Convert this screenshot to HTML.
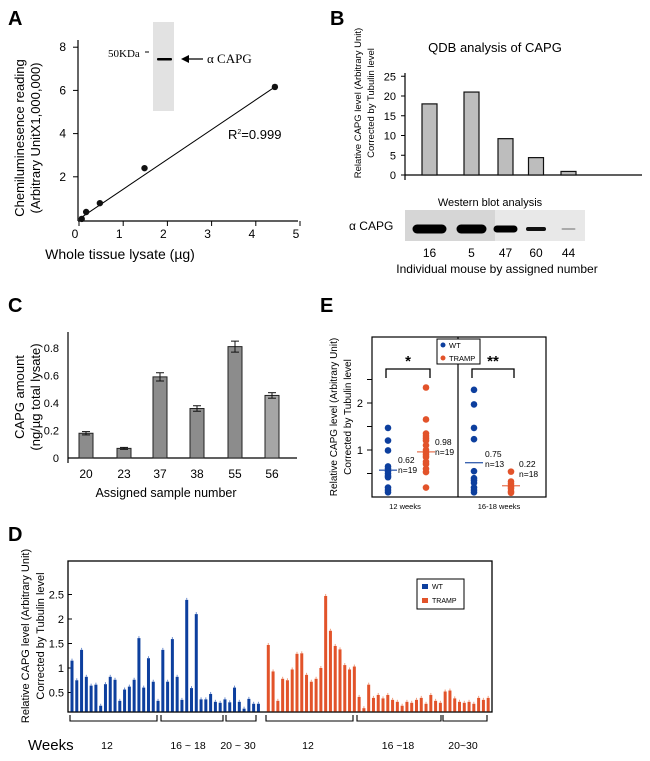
<!DOCTYPE html>
<html><head><meta charset="utf-8">
<style>
html,body{margin:0;padding:0;background:#fff;}
svg{display:block;font-family:"Liberation Sans",Arial,sans-serif;}
</style></head>
<body>
<svg id="fig" width="650" height="761" viewBox="0 0 650 761" xmlns="http://www.w3.org/2000/svg">
  <text x="8" y="25" font-size="20" font-weight="bold">A</text>
  <text x="330" y="25" font-size="20" font-weight="bold">B</text>
  <text x="8" y="312" font-size="20" font-weight="bold">C</text>
  <text x="320" y="312" font-size="20" font-weight="bold">E</text>
  <text x="8" y="541" font-size="20" font-weight="bold">D</text>

  <g id="panelA"></g>
  <g id="panelB"></g>
  <g id="panelC"></g>
  <g id="panelE"></g>
  <g id="panelD"></g>
</svg>
<script>
// ---------- Panel A data ----------
const aX = [0.13, 0.23, 0.54, 1.55, 4.5];
const aY = [0.05, 0.37, 0.78, 2.4, 6.16];
const aXTicks = [0, 1, 2, 3, 4, 5];
const aYTicks = [2, 4, 6, 8];
// ---------- Panel B data ----------
const bCats = ["16", "5", "47", "60", "44"];
const bVals = [18, 21, 9.2, 4.4, 0.9];
const bYTicks = [0, 5, 10, 15, 20, 25];
// ---------- Panel C data ----------
const cCats = ["20", "23", "37", "38", "55", "56"];
const cVals = [0.18, 0.07, 0.59, 0.36, 0.81, 0.455];
const cErrs = [0.012, 0.007, 0.03, 0.02, 0.04, 0.02];
const cYTicks = [0, 0.2, 0.4, 0.6, 0.8];
// ---------- Panel E data ----------
const eWT12 = [1.47, 1.2, 0.99, 0.65, 0.6, 0.55, 0.5, 0.45, 0.42, 0.2, 0.15, 0.1];
const eTR12 = [2.33, 1.65, 1.35, 1.3, 1.25, 1.2, 1.1, 1.0, 0.95, 0.9, 0.85, 0.75, 0.7, 0.6, 0.53, 0.2];
const eWT16 = [2.28, 1.97, 1.47, 1.23, 0.55, 0.4, 0.35, 0.3, 0.2, 0.15, 0.1];
const eTR16 = [0.54, 0.33, 0.28, 0.22, 0.18, 0.12, 0.09];
const eMeans = [0.57, 0.96, 0.73, 0.24];
const eMeanLabels = ["0.62", "0.98", "0.75", "0.22"];
const eNLabels = ["n=19", "n=19", "n=13", "n=18"];
const eYTicks = [0.5, 1, 1.5, 2, 2.5];
// ---------- Panel D data ----------
const dWT = [1.15,0.75,1.37,0.82,0.64,0.66,0.23,0.67,0.82,0.76,0.33,0.56,0.62,0.76,1.61,0.6,1.2,0.72,0.33,1.37,0.72,1.59,0.82,0.35,2.39,0.59,2.1,0.36,0.36,0.47,0.31,0.29,0.36,0.3,0.6,0.31,0.17,0.37,0.27,0.27];
const dTRAMP = [1.47,0.93,0.33,0.78,0.75,0.97,1.29,1.3,0.86,0.72,0.78,1.0,2.47,1.76,1.45,1.38,1.06,0.97,1.03,0.41,0.18,0.66,0.39,0.45,0.38,0.45,0.35,0.31,0.23,0.31,0.29,0.35,0.39,0.27,0.45,0.33,0.29,0.52,0.54,0.38,0.31,0.29,0.31,0.27,0.39,0.35,0.39];
const dYTicks = [0.5, 1, 1.5, 2, 2.5];
const dYTickLabels = ["0.5", "1", "1.5", "2", "2.5"];
const dGroups = ["12", "16 ~ 18", "20 ~ 30", "12", "16 ~18", "20~30"];

const NS = "http://www.w3.org/2000/svg";
function mk(parent, tag, attrs, text) {
  const el = document.createElementNS(NS, tag);
  for (const k in attrs) el.setAttribute(k, attrs[k]);
  if (text !== undefined) el.textContent = text;
  parent.appendChild(el);
  return el;
}

// ===== Panel A =====
(function(){
  const g = document.getElementById('panelA');
  const xs = v => 76 + 44.2 * v;
  const ys = v => 220 - 21.6 * v;
  let el;
  el = mk(g, 'line', {x1:78, y1:40, x2:78, y2:221, stroke:'#000', 'stroke-width':1.2});
   
  el = mk(g, 'line', {x1:78, y1:221, x2:298, y2:221, stroke:'#000', 'stroke-width':1.2});
   
  aXTicks.forEach(t => {
    mk(g, 'line', {x1:xs(t)+3, y1:221, x2:xs(t)+3, y2:226, stroke:'#000'});
    el = mk(g, 'text', {x:xs(t)-1, y:238, 'font-size':12, 'text-anchor':'middle'}, String(t));
     
  });
  aYTicks.forEach(t => {
    mk(g, 'line', {x1:73, y1:ys(t), x2:78, y2:ys(t), stroke:'#000'});
    el = mk(g, 'text', {x:66, y:ys(t)+4, 'font-size':12, 'text-anchor':'end'}, String(t));
     
  });
  el = mk(g, 'line', {x1:xs(0.1), y1:ys(0.09), x2:xs(4.5), y2:ys(6.16), stroke:'#000', 'stroke-width':1});
   
  aX.forEach((x, i) => {
    el = mk(g, 'circle', {cx:xs(x), cy:ys(aY[i]), r:3.2, fill:'#111'});
     
  });
  el = mk(g, 'text', {x:228, y:139, 'font-size':13}, 'R');
   
  mk(el, 'tspan', {dy:-5, 'font-size':7}, '2');
  mk(el, 'tspan', {dy:5}, '=0.999');
  el = mk(g, 'text', {x:120, y:259, 'font-size':14, 'text-anchor':'middle'}, 'Whole tissue lysate (\u00b5g)');
   
  el = mk(g, 'text', {transform:'translate(24,138) rotate(-90)', 'font-size':13, 'text-anchor':'middle'}, 'Chemiluminesence reading');
   
  el = mk(g, 'text', {transform:'translate(40,138) rotate(-90)', 'font-size':13, 'text-anchor':'middle'}, '(Arbitrary UnitX1,000,000)');
   
  el = mk(g, 'rect', {x:153, y:22, width:21, height:89, fill:'#e2e2e2'});
   
  mk(g, 'rect', {x:157, y:58, width:15, height:2.5, fill:'#000', rx:1});
  el = mk(g, 'text', {x:108, y:57, 'font-size':11, 'font-family':'Liberation Serif, serif'}, '50KDa');
   
  mk(g, 'line', {x1:145, y1:52, x2:149, y2:52, stroke:'#000'});
  mk(g, 'line', {x1:185, y1:59, x2:203, y2:59, stroke:'#000', 'stroke-width':1.3});
  mk(g, 'polygon', {points:'181,59 189,55 189,63', fill:'#000'});
  el = mk(g, 'text', {x:207, y:63, 'font-size':13, 'font-family':'Liberation Serif, serif'}, '\u03b1 CAPG');
   
})();

// ===== Panel B =====
(function(){
  const g = document.getElementById('panelB');
  const ys = v => 175 - 3.95 * v;
  const centers = [429.5, 471.5, 505.5, 536, 568.5];
  let el;
  el = mk(g, 'text', {x:495, y:52, 'font-size':13, 'text-anchor':'middle'}, 'QDB analysis of CAPG');
   
  el = mk(g, 'line', {x1:405, y1:73, x2:405, y2:180, stroke:'#000', 'stroke-width':1.2});
   
  el = mk(g, 'line', {x1:405, y1:175, x2:642, y2:175, stroke:'#000', 'stroke-width':1.2});
   
  bYTicks.forEach(t => {
    mk(g, 'line', {x1:401, y1:ys(t), x2:405, y2:ys(t), stroke:'#000'});
    el = mk(g, 'text', {x:396, y:ys(t)+4, 'font-size':11, 'text-anchor':'end'}, String(t));
     
  });
  bVals.forEach((v, i) => {
    el = mk(g, 'rect', {x:centers[i]-7.5, y:ys(v), width:15, height:175-ys(v), fill:'#bdbdbd', stroke:'#111', 'stroke-width':1.2});
     
    el = mk(g, 'text', {x:centers[i], y:257, 'font-size':12, 'text-anchor':'middle'}, bCats[i]);
     
  });
  el = mk(g, 'text', {transform:'translate(361,103) rotate(-90)', 'font-size':9.5, 'text-anchor':'middle'}, 'Relative CAPG level (Arbitrary Unit)');
   
  el = mk(g, 'text', {transform:'translate(374,103) rotate(-90)', 'font-size':9.5, 'text-anchor':'middle'}, 'Corrected by Tubulin level');
   
  el = mk(g, 'text', {x:490, y:206, 'font-size':11, 'text-anchor':'middle'}, 'Western blot analysis');
   
  el = mk(g, 'rect', {x:405, y:210, width:180, height:31, fill:'#e8e8e8'});
   
  mk(g, 'rect', {x:405, y:210, width:90, height:31, fill:'#d6d6d6'});
  const bw = [34, 30, 24, 20, 14], bh = [9, 9, 7, 4, 2], bc = ['#000','#000','#000','#111','#aaa'];
  centers.forEach((c, i) => {
    mk(g, 'rect', {x:c-bw[i]/2, y:229-bh[i]/2, width:bw[i], height:bh[i], rx:bh[i]/2, fill:bc[i]});
  });
  el = mk(g, 'text', {x:349, y:230, 'font-size':12}, '\u03b1 CAPG');
   
  el = mk(g, 'text', {x:497, y:273, 'font-size':12, 'text-anchor':'middle'}, 'Individual mouse by assigned number');
   
})();

// ===== Panel C =====
(function(){
  const g = document.getElementById('panelC');
  const ys = v => 458 - 137.5 * v;
  const centers = [86, 124, 160, 197, 235, 272];
  let el;
  el = mk(g, 'line', {x1:68, y1:332, x2:68, y2:463, stroke:'#000', 'stroke-width':1.2});
   
  el = mk(g, 'line', {x1:68, y1:458, x2:297, y2:458, stroke:'#000', 'stroke-width':1.2});
   
  cYTicks.forEach(t => {
    el = mk(g, 'text', {x:59, y:ys(t)+4, 'font-size':11, 'text-anchor':'end'}, t === 0 ? '0' : t.toFixed(1));
     
  });
  cVals.forEach((v, i) => {
    el = mk(g, 'rect', {x:centers[i]-7, y:ys(v), width:14, height:458-ys(v), fill:i === 5 ? '#a6a6a6' : '#8c8c8c', stroke:'#222', 'stroke-width':1});
     
    const t = ys(v + cErrs[i]), b = ys(v - cErrs[i]);
    mk(g, 'line', {x1:centers[i], y1:t, x2:centers[i], y2:b, stroke:'#111'});
    mk(g, 'line', {x1:centers[i]-4, y1:t, x2:centers[i]+4, y2:t, stroke:'#111'});
    mk(g, 'line', {x1:centers[i]-4, y1:b, x2:centers[i]+4, y2:b, stroke:'#111'});
    el = mk(g, 'text', {x:centers[i], y:478, 'font-size':12, 'text-anchor':'middle'}, cCats[i]);
     
  });
  el = mk(g, 'text', {x:166, y:497, 'font-size':12.5, 'text-anchor':'middle'}, 'Assigned sample number');
   
  el = mk(g, 'text', {transform:'translate(24,397) rotate(-90)', 'font-size':13, 'text-anchor':'middle'}, 'CAPG amount');
   
  el = mk(g, 'text', {transform:'translate(40,397) rotate(-90)', 'font-size':13, 'text-anchor':'middle'}, '(ng/\u00b5g total lysate)');
   
})();

// ===== Panel E =====
(function(){
  const g = document.getElementById('panelE');
  const ys = v => 450 - (v - 1) * 47;
  const BLUE = '#0d3f9e', ORANGE = '#e2532a';
  let el;
  el = mk(g, 'rect', {x:372, y:337, width:174, height:160, fill:'none', stroke:'#000', 'stroke-width':1.2});
   
  mk(g, 'line', {x1:458, y1:337, x2:458, y2:497, stroke:'#000', 'stroke-width':1.2});
  eYTicks.forEach(t => {
    mk(g, 'line', {x1:367, y1:ys(t), x2:372, y2:ys(t), stroke:'#000'});
    if (t === 1 || t === 2) {
      el = mk(g, 'text', {x:363, y:ys(t)+4, 'font-size':11, 'text-anchor':'end'}, String(t));
       
    }
  });
  const groups = [[eWT12, 388, BLUE], [eTR12, 426, ORANGE], [eWT16, 474, BLUE], [eTR16, 511, ORANGE]];
  const names = ['wt-12wk', 'tramp-12wk', 'wt-16-18wk', 'tramp-16-18wk'];
  const labX = [398, 435, 485, 519], labY = [463, 445, 457, 467];
  groups.forEach((gr, gi) => {
    gr[0].forEach(v => {
      el = mk(g, 'circle', {cx:gr[1], cy:ys(v), r:3.3, fill:gr[2]});
       
    });
    el = mk(g, 'line', {x1:gr[1]-9, y1:ys(eMeans[gi]), x2:gr[1]+9, y2:ys(eMeans[gi]), stroke:gr[2], 'stroke-width':1.3, opacity:0.8});
     
    el = mk(g, 'text', {x:labX[gi], y:labY[gi], 'font-size':8.5}, eMeanLabels[gi]);
     
    el = mk(g, 'text', {x:labX[gi], y:labY[gi]+10, 'font-size':8.5}, eNLabels[gi]);
     
  });
  [[386, 430, '*'], [472, 514, '**']].forEach(b => {
    el = mk(g, 'polyline', {points:`${b[0]},378 ${b[0]},369 ${b[1]},369 ${b[1]},378`, fill:'none', stroke:'#000', 'stroke-width':1.3});
     
    el = mk(g, 'text', {x:(b[0]+b[1])/2, y:366, 'font-size':15, 'font-weight':'bold', 'text-anchor':'middle'}, b[2]);
     
  });
  el = mk(g, 'rect', {x:437, y:339, width:43, height:25, fill:'#fff', stroke:'#000', 'stroke-width':1});
   
  mk(g, 'circle', {cx:443, cy:345, r:2.5, fill:BLUE});
  el = mk(g, 'text', {x:449, y:348, 'font-size':7.5}, 'WT');
   
  mk(g, 'circle', {cx:443, cy:358, r:2.5, fill:ORANGE});
  el = mk(g, 'text', {x:449, y:361, 'font-size':7.5}, 'TRAMP');
   
  el = mk(g, 'text', {x:405, y:509, 'font-size':7.5, 'text-anchor':'middle'}, '12 weeks');
   
  el = mk(g, 'text', {x:499, y:509, 'font-size':7.5, 'text-anchor':'middle'}, '16-18 weeks');
   
  el = mk(g, 'text', {transform:'translate(337,417) rotate(-90)', 'font-size':10, 'text-anchor':'middle'}, 'Relative CAPG level (Arbitrary Unit)');
   
  el = mk(g, 'text', {transform:'translate(351,417) rotate(-90)', 'font-size':10, 'text-anchor':'middle'}, 'Corrected by Tubulin level');
   
})();

// ===== Panel D =====
(function(){
  const g = document.getElementById('panelD');
  const ys = v => 692.5 - (v - 0.5) * 49;
  const BASE = 711.5;
  const BLUE = '#0d3f9e', ORANGE = '#e2532a';
  let el;
  el = mk(g, 'rect', {x:68, y:561, width:424, height:151, fill:'none', stroke:'#000', 'stroke-width':1.3});
   
  dYTicks.forEach((t, i) => {
    mk(g, 'line', {x1:68, y1:ys(t), x2:72, y2:ys(t), stroke:'#000'});
    el = mk(g, 'text', {x:64, y:ys(t)+4, 'font-size':11, 'text-anchor':'end'}, dYTickLabels[i]);
     
  });
  const pitch = 4.78;
  dWT.forEach((v, i) => {
    const cx = 72 + i * pitch;
    el = mk(g, 'rect', {x:cx-1.5, y:ys(v), width:3, height:BASE-ys(v), fill:BLUE});
     
    mk(g, 'line', {x1:cx, y1:ys(v)-2, x2:cx, y2:ys(v), stroke:'#6f8fd0', 'stroke-width':1});
  });
  dTRAMP.forEach((v, i) => {
    const cx = 268.3 + i * pitch;
    el = mk(g, 'rect', {x:cx-1.5, y:ys(v), width:3, height:BASE-ys(v), fill:ORANGE});
     
    mk(g, 'line', {x1:cx, y1:ys(v)-2, x2:cx, y2:ys(v), stroke:'#f0a080', 'stroke-width':1});
  });
  el = mk(g, 'rect', {x:417, y:579, width:47, height:30, fill:'#fff', stroke:'#000', 'stroke-width':1});
   
  mk(g, 'rect', {x:422, y:584, width:6, height:5, fill:BLUE});
  el = mk(g, 'text', {x:432, y:589, 'font-size':7}, 'WT');
   
  mk(g, 'rect', {x:422, y:598, width:6, height:5, fill:ORANGE});
  el = mk(g, 'text', {x:432, y:603, 'font-size':7}, 'TRAMP');
   
  const bx = [[70,157],[161,223],[226,256],[266,353],[357,441],[443,487]];
  const lx = [107, 188, 238, 308, 398, 463];
  bx.forEach((b, i) => {
    el = mk(g, 'polyline', {points:`${b[0]},715 ${b[0]},721 ${b[1]},721 ${b[1]},715`, fill:'none', stroke:'#000', 'stroke-width':1.1});
     
    el = mk(g, 'text', {x:lx[i], y:749, 'font-size':10.5, 'text-anchor':'middle'}, dGroups[i]);
     
  });
  el = mk(g, 'text', {x:28, y:750, 'font-size':15}, 'Weeks');
   
  el = mk(g, 'text', {transform:'translate(29,636) rotate(-90)', 'font-size':11, 'text-anchor':'middle'}, 'Relative CAPG level (Arbitrary Unit)');
   
  el = mk(g, 'text', {transform:'translate(44,636) rotate(-90)', 'font-size':11, 'text-anchor':'middle'}, 'Corrected by Tubulin level');
   
})();
</script>
</body></html>
